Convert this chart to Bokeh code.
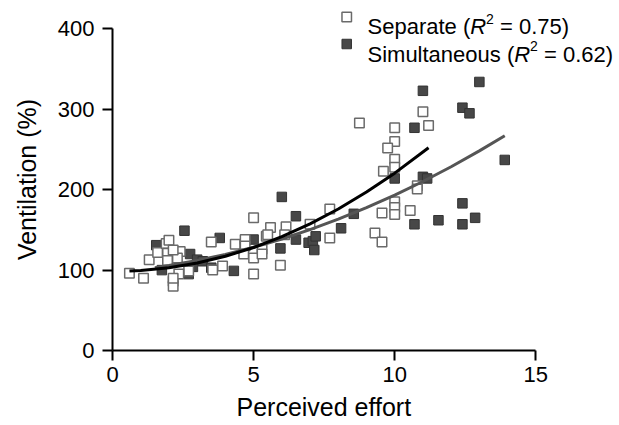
from bokeh.plotting import figure
from bokeh.models import Label, FixedTicker, Range1d, Title
from bokeh.embed import file_html
from bokeh.resources import INLINE

# ---- data ----
sep_x = [0.6, 1.1, 1.3, 1.6, 1.9, 2.0, 1.95, 2.4, 2.3, 2.7, 2.15, 2.15, 2.35, 2.15, 2.15, 1.95,
         3.5, 3.55, 3.9, 4.35, 4.7, 4.7, 4.65, 5.0, 5.0, 5.3, 5.3, 5.45, 5.6, 5.95, 5.0, 6.15,
         6.1, 5.5, 7.0, 7.7, 7.7, 8.75, 9.3, 9.55, 9.55, 10.0, 10.0, 10.0, 10.55, 10.8, 10.8,
         11.0, 11.2, 10.0, 10.0, 9.75, 10.0, 10.0, 9.6]
sep_y = [96, 90, 113, 122, 133, 137, 121, 123, 115, 99, 86, 80, 95, 90, 125, 112,
         135, 100, 105, 132, 138, 130, 120, 115, 95, 126, 120, 142, 153, 106, 165, 154,
         144, 144, 157, 176, 140, 283, 146, 135, 171, 185, 178, 169, 174, 205, 201,
         297, 280, 277, 260, 252, 238, 228, 223]

sim_x = [1.55, 1.75, 2.55, 2.75, 3.0, 2.7, 2.85, 3.2, 3.5, 3.8, 4.3, 5.0, 5.95, 6.0, 6.5,
         6.5, 6.95, 7.1, 7.15, 7.2, 8.1, 8.55, 10.0, 10.7, 10.7, 11.0, 11.0, 11.15, 11.55,
         12.4, 12.4, 12.4, 12.65, 12.85, 13.0, 13.9]
sim_y = [131, 100, 149, 120, 113, 95, 104, 111, 103, 140, 99, 138, 127, 191, 167,
         138, 134, 136, 125, 142, 152, 170, 214, 277, 157, 323, 216, 214, 162,
         302, 183, 157, 295, 165, 334, 237]

# fitted curves
sep_fit_x = [0.6, 1, 2, 3, 4, 5, 6, 7, 8, 9, 10, 11.2]
sep_fit_y = [99, 99.6, 103, 108.8, 117.2, 128.1, 141.6, 157.5, 176, 197.1, 220.6, 252.2]
sim_fit_x = [1.5, 2, 3, 4, 5, 6, 7, 8, 9, 10, 11, 12, 13, 13.9]
sim_fit_y = [103, 105.6, 111.9, 119.5, 128.4, 138.7, 150.3, 163.3, 177.6, 193.3, 210.2, 228.6, 248.3, 267.1]

x_ticks = [0, 5, 10, 15]
y_ticks = [0, 100, 200, 300, 400]

FONT = "Liberation Sans"
PX_X = 28.22   # px per x unit
PX_Y = 0.804   # px per y unit
FW, FH = 503, 342

p = figure(frame_width=FW, frame_height=FH,
           x_range=Range1d(0, FW / PX_X), y_range=Range1d(0, FH / PX_Y),
           output_backend="svg", toolbar_location=None,
           min_border_left=112, min_border_right=0, min_border_top=8, min_border_bottom=6)

p.xgrid.visible = False
p.ygrid.visible = False
p.outline_line_color = None
p.background_fill_color = "white"
p.border_fill_color = "white"

for ax in (p.xaxis[0], p.yaxis[0]):
    ax.axis_line_width = 2
    ax.axis_line_color = "black"
    ax.major_tick_line_width = 2
    ax.major_tick_line_color = "black"
    ax.major_tick_out = 10
    ax.major_tick_in = 0
    ax.minor_tick_line_color = None
    ax.major_label_text_font = FONT
    ax.major_label_text_font_size = "22px"
    ax.major_label_text_color = "black"

p.xaxis.bounds = (0, 15)
p.yaxis.bounds = (0, 400)
p.xaxis.ticker = FixedTicker(ticks=x_ticks)
p.yaxis.ticker = FixedTicker(ticks=y_ticks)
p.xaxis.major_label_standoff = 6
p.yaxis.major_label_standoff = 8

p.yaxis.axis_label = "Ventilation (%)"
p.yaxis.axis_label_text_font = FONT
p.yaxis.axis_label_text_font_size = "25px"
p.yaxis.axis_label_text_font_style = "normal"
p.yaxis.axis_label_text_color = "black"
p.yaxis.axis_label_standoff = 14

# x-axis title, placed below the axis and aligned under the 0..15 span
p.add_layout(Title(text="Perceived effort", align="left", offset=124,
                   text_font=FONT, text_font_size="25px", text_font_style="normal",
                   text_color="black", standoff=13), "below")

# points
p.scatter(sim_x, sim_y, marker="square", size=9.5, fill_color="#474747",
          line_color="#333333", line_width=1)
p.scatter(sep_x, sep_y, marker="square", size=9.5, fill_color="white",
          line_color="#6a6a6a", line_width=1.5)

# fit lines
p.line(sim_fit_x, sim_fit_y, line_color="#555555", line_width=3)
p.line(sep_fit_x, sep_fit_y, line_color="black", line_width=3)

# legend
p.scatter([8.3], [414.8], marker="square", size=9.5, fill_color="white",
          line_color="#6a6a6a", line_width=1.5)
p.scatter([8.3], [381.2], marker="square", size=9.5, fill_color="#474747",
          line_color="#333333", line_width=1)


def add_text(x, y, text, size="22px", style="normal"):
    p.add_layout(Label(x=x, y=y, text=text, text_font=FONT, text_font_size=size,
                       text_font_style=style, text_align="left",
                       text_baseline="alphabetic", text_color="black"))


rows = [(402.4, "Separate (", 12.676, 13.238, 13.73, "= 0.75)"),
        (368.4, "Simultaneous (", 14.235, 14.797, 15.29, "= 0.62)")]
for y, lead, xr, x2, xrest, rest in rows:
    add_text(9.036, y, lead)
    add_text(xr, y, "R", style="italic")
    add_text(x2, y + 10, "2", size="14px")
    add_text(xrest, y, rest)

open("out.html", "w").write(file_html(p, INLINE))
